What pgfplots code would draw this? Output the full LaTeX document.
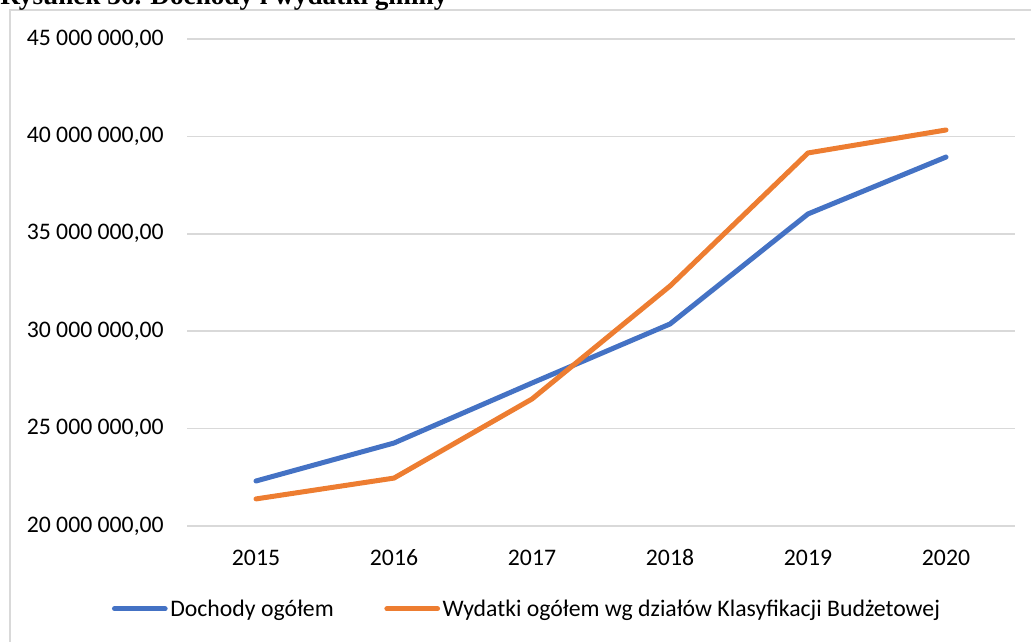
\documentclass[border=0pt]{standalone}
\usepackage{pgfplots}
\pgfplotsset{compat=1.18}
\usepackage{fontspec}
\setmainfont{Carlito}
\newfontfamily\titlefont{Liberation Serif}
\definecolor{cblue}{HTML}{4472C4}
\definecolor{corange}{HTML}{ED7D31}
\definecolor{cgrid}{HTML}{D9D9D9}
\begin{document}
\begin{tikzpicture}
\begin{scope}[x=0.75pt,y=-0.75pt]
\useasboundingbox (0,0) rectangle (1031,642);
\draw[cgrid, line width=1.2pt] (10,10) rectangle (1070,700);
\node[anchor=base west, inner sep=0pt, font=\titlefont\bfseries\fontsize{20.4}{22}\selectfont] at (0,5) {Rysunek 36. Dochody i wydatki gminy};
\end{scope}
\begin{axis}[
  at={(140.25pt,-394.5pt)}, anchor=south west,
  scale only axis, width=621pt, height=365.25pt,
  xmin=-0.5, xmax=5.5, ymin=20, ymax=45,
  axis line style={draw=none},
  ymajorgrids, grid style={cgrid, line width=1.2pt},
  major tick length=0pt,
  xtick={0,1,2,3,4,5},
  xticklabels={2015,2016,2017,2018,2019,2020},
  ytick={20,25,30,35,40,45},
  yticklabels={{20 000 000,00},{25 000 000,00},{30 000 000,00},{35 000 000,00},{40 000 000,00},{45 000 000,00}},
  xticklabel style={anchor=base, inner sep=0pt, yshift=-29.25pt, font=\fontsize{17.8}{21}\selectfont},
  yticklabel style={anchor=east, inner sep=0pt, xshift=-17.25pt, font=\fontsize{17.8}{21}\selectfont},
  legend style={at={(axis description cs:0.411,-0.170)}, anchor=center, draw=none, fill=none,
    legend columns=2, font=\fontsize{17.8}{21}\selectfont,
    /tikz/every even column/.append style={column sep=36pt},
    nodes={inner sep=2pt}},
  legend image code/.code={\draw[#1] (0pt,0pt) -- (38pt,0pt);},
  every axis plot/.append style={line width=3.75pt, line cap=round, line join=round},
]
\addplot[cblue] coordinates {(0,22.31) (1,24.26) (2,27.34) (3,30.37) (4,36.02) (5,38.94)};
\addlegendentry{Dochody ogółem}
\addplot[corange] coordinates {(0,21.39) (1,22.46) (2,26.52) (3,32.32) (4,39.15) (5,40.33)};
\addlegendentry{Wydatki ogółem wg działów Klasyfikacji Budżetowej}
\end{axis}
\end{tikzpicture}
\end{document}
